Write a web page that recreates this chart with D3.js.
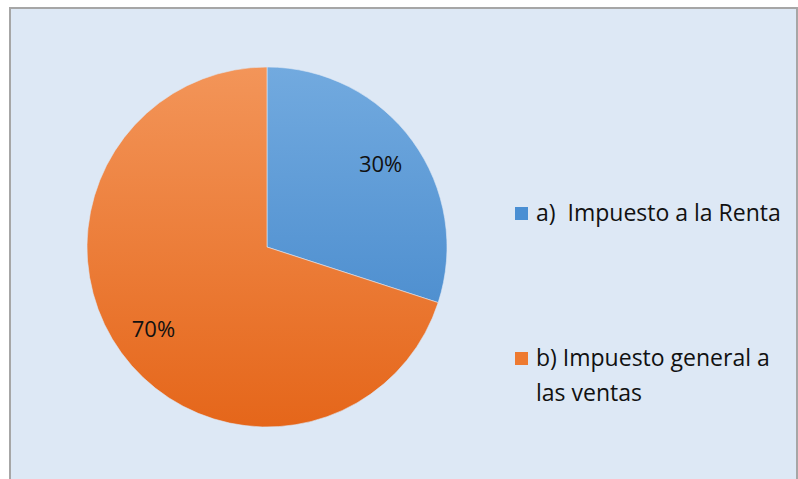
<!DOCTYPE html>
<html>
  <head>
    <meta charset="utf-8">
    <script src="https://d3js.org/d3.v7.min.js"></script>
    <style>
      body { margin: 0; background: #ffffff; }
      text { font-family: "Open Sans", "DejaVu Sans", sans-serif; white-space: pre; }
    </style>
  </head>
  <body>
  <script>

var categories = ["a)  Impuesto a la Renta", "b) Impuesto general a las ventas"];
var legendLines = [["a)  Impuesto a la Renta"], ["b) Impuesto general a", "las ventas"]];
var values = [30, 70];
var labels = ["30%", "70%"];

var width = 798, height = 479;
var cx = 267, cy = 247, radius = 180;

var svg = d3.select("body").append("svg")
    .attr("width", width)
    .attr("height", height);

var defs = svg.append("defs");

// vertical gradients, lighter on top like the office style
var grads = [
    ["gBlue", "#72aadf", "#3d82c8"],
    ["gOrange", "#f39559", "#e5661a"]
];
grads.forEach(function(g) {
    var lg = defs.append("linearGradient")
        .attr("id", g[0])
        .attr("gradientUnits", "userSpaceOnUse")
        .attr("x1", 0).attr("y1", -radius)
        .attr("x2", 0).attr("y2", radius);
    lg.append("stop").attr("offset", "0%").attr("stop-color", g[1]);
    lg.append("stop").attr("offset", "100%").attr("stop-color", g[2]);
});

var fills = ["url(#gBlue)", "url(#gOrange)"];
var swatch = ["#4a8fd3", "#ee7a30"];

// background panel
svg.append("rect")
    .attr("x", 10).attr("y", 8)
    .attr("width", 787).attr("height", 480)
    .attr("fill", "#dde8f5")
    .attr("stroke", "#a6a6a6")
    .attr("stroke-width", 2);

var pie = d3.pie().sort(null).value(function(d) { return d; });
var arc = d3.arc().innerRadius(0).outerRadius(radius);
var labelArc = d3.arc().innerRadius(radius * 0.78).outerRadius(radius * 0.78);

var g = svg.append("g").attr("transform", "translate(" + cx + "," + cy + ")");

var arcs = pie(values);

g.selectAll("path")
    .data(arcs)
    .enter()
    .append("path")
    .attr("d", arc)
    .attr("fill", function(d, i) { return fills[i]; })
    .attr("stroke", "#dde8f5")
    .attr("stroke-width", 0.6);

g.selectAll("text.lbl")
    .data(arcs)
    .enter()
    .append("text")
    .attr("class", "lbl")
    .attr("transform", function(d) { return "translate(" + labelArc.centroid(d) + ")"; })
    .attr("text-anchor", "middle")
    .attr("dy", "0.35em")
    .attr("font-size", 22)
    .attr("fill", "#111")
    .text(function(d, i) { return labels[i]; });

// legend
var legendY = [213, 358];
var leg = svg.selectAll("g.leg")
    .data(categories)
    .enter()
    .append("g")
    .attr("class", "leg")
    .attr("transform", function(d, i) { return "translate(515," + legendY[i] + ")"; });

leg.append("rect")
    .attr("x", 0).attr("y", -6)
    .attr("width", 13).attr("height", 13)
    .attr("fill", function(d, i) { return swatch[i]; });

leg.append("text")
    .attr("x", 21)
    .attr("font-size", 23)
    .attr("fill", "#111")
    .each(function(d, i) {
        var t = d3.select(this);
        legendLines[i].forEach(function(line, j) {
            t.append("tspan")
                .attr("x", 21)
                .attr("y", j * 35)
                .attr("dy", "0.35em")
                .text(line);
        });
    });

  </script>
  </body>
</html>
